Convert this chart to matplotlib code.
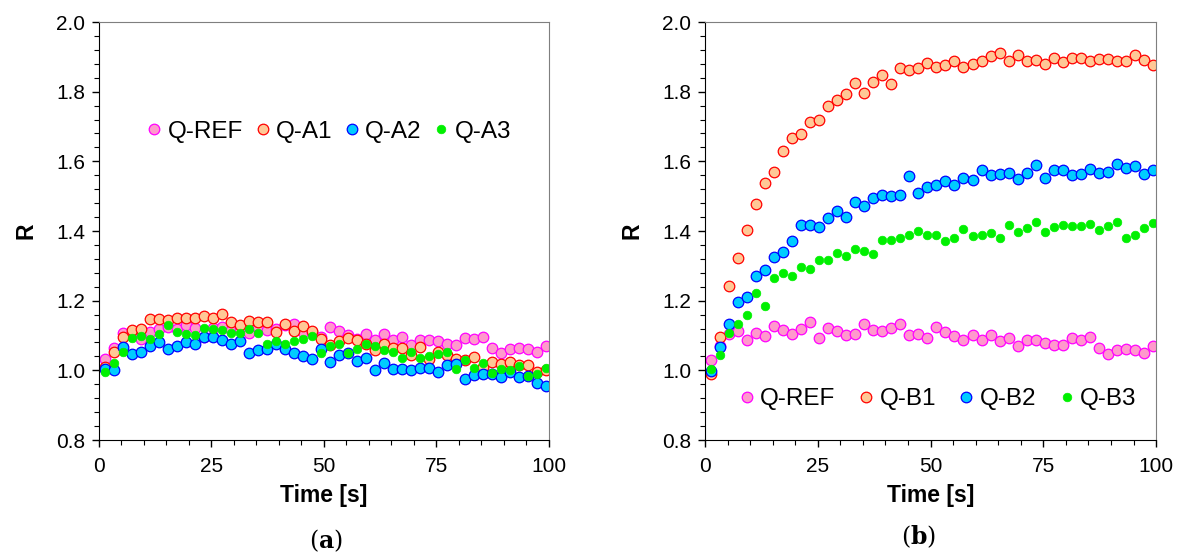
import matplotlib
matplotlib.use("Agg")
import matplotlib.pyplot as plt
from matplotlib.ticker import MultipleLocator

plt.rcParams['font.family'] = ['Liberation Sans', 'DejaVu Sans']

times = [1.3, 3.3, 5.3, 7.3, 9.3, 11.3, 13.3, 15.3, 17.3, 19.3,
         21.3, 23.3, 25.3, 27.3, 29.3, 31.3, 33.3, 35.3, 37.3, 39.3,
         41.3, 43.3, 45.3, 47.3, 49.3, 51.3, 53.3, 55.3, 57.3, 59.3,
         61.3, 63.3, 65.3, 67.3, 69.3, 71.3, 73.3, 75.3, 77.3, 79.3,
         81.3, 83.3, 85.3, 87.3, 89.3, 91.3, 93.3, 95.3, 97.3, 99.3]

# panel (a)
ref_a = [1.033, 1.065, 1.107, 1.110, 1.090, 1.110, 1.120, 1.125, 1.120, 1.130,
         1.121, 1.096, 1.122, 1.124, 1.115, 1.120, 1.107, 1.125, 1.117, 1.119,
         1.129, 1.134, 1.110, 1.110, 1.096, 1.124, 1.112, 1.102, 1.091, 1.105,
         1.088, 1.105, 1.086, 1.096, 1.074, 1.088, 1.088, 1.083, 1.076, 1.074,
         1.094, 1.091, 1.096, 1.065, 1.051, 1.060, 1.065, 1.062, 1.054, 1.069]
qa1 = [1.010, 1.053, 1.096, 1.117, 1.119, 1.146, 1.146, 1.145, 1.149, 1.149,
       1.149, 1.155, 1.150, 1.162, 1.138, 1.129, 1.143, 1.138, 1.138, 1.110,
       1.134, 1.112, 1.126, 1.113, 1.091, 1.072, 1.084, 1.094, 1.088, 1.076,
       1.057, 1.075, 1.065, 1.065, 1.043, 1.067, 1.033, 1.053, 1.043, 1.033,
       1.031, 1.038, 1.010, 1.024, 1.017, 1.024, 1.014, 1.014, 0.995, 1.000]
qa2 = [1.003, 1.000, 1.067, 1.046, 1.054, 1.070, 1.081, 1.062, 1.070, 1.081,
       1.075, 1.096, 1.097, 1.088, 1.076, 1.084, 1.050, 1.057, 1.062, 1.076,
       1.062, 1.050, 1.040, 1.032, 1.060, 1.024, 1.043, 1.050, 1.027, 1.036,
       1.002, 1.022, 1.003, 1.003, 1.000, 1.008, 1.008, 0.995, 1.014, 1.019,
       0.976, 0.986, 0.989, 0.990, 0.981, 0.995, 0.981, 0.985, 0.965, 0.954]
qa3 = [0.995, 1.022, 1.054, 1.093, 1.098, 1.091, 1.105, 1.129, 1.110, 1.105,
       1.102, 1.121, 1.119, 1.117, 1.107, 1.108, 1.119, 1.107, 1.076, 1.084,
       1.076, 1.084, 1.091, 1.098, 1.050, 1.069, 1.076, 1.050, 1.060, 1.075,
       1.071, 1.057, 1.054, 1.035, 1.053, 1.036, 1.041, 1.048, 1.054, 1.003,
       1.029, 1.007, 1.022, 0.992, 1.003, 1.000, 1.012, 0.983, 0.989, 1.008]

# panel (b)
ref_b = [1.031, 1.070, 1.105, 1.113, 1.088, 1.107, 1.100, 1.127, 1.115, 1.105,
         1.119, 1.140, 1.094, 1.121, 1.113, 1.102, 1.105, 1.134, 1.115, 1.113,
         1.121, 1.132, 1.102, 1.105, 1.094, 1.124, 1.110, 1.098, 1.086, 1.102,
         1.086, 1.102, 1.083, 1.093, 1.070, 1.086, 1.086, 1.079, 1.074, 1.074,
         1.093, 1.086, 1.096, 1.064, 1.046, 1.059, 1.062, 1.059, 1.051, 1.069]
qb1 = [0.990, 1.095, 1.241, 1.323, 1.404, 1.477, 1.537, 1.569, 1.630, 1.667,
       1.678, 1.714, 1.719, 1.759, 1.776, 1.792, 1.824, 1.795, 1.827, 1.849,
       1.822, 1.867, 1.862, 1.868, 1.883, 1.871, 1.876, 1.887, 1.871, 1.879,
       1.887, 1.902, 1.912, 1.889, 1.905, 1.887, 1.892, 1.879, 1.897, 1.884,
       1.898, 1.898, 1.889, 1.895, 1.895, 1.889, 1.887, 1.905, 1.892, 1.876]
qb2 = [0.998, 1.067, 1.132, 1.197, 1.210, 1.270, 1.288, 1.325, 1.341, 1.371,
       1.416, 1.418, 1.411, 1.437, 1.458, 1.441, 1.482, 1.471, 1.495, 1.504,
       1.501, 1.504, 1.559, 1.509, 1.525, 1.532, 1.544, 1.533, 1.552, 1.546,
       1.575, 1.562, 1.565, 1.566, 1.549, 1.566, 1.590, 1.552, 1.576, 1.575,
       1.562, 1.565, 1.578, 1.566, 1.568, 1.592, 1.581, 1.587, 1.563, 1.576]
qb3 = [1.005, 1.045, 1.108, 1.132, 1.160, 1.222, 1.186, 1.265, 1.279, 1.270,
       1.298, 1.290, 1.317, 1.317, 1.336, 1.329, 1.349, 1.344, 1.334, 1.375,
       1.375, 1.379, 1.389, 1.401, 1.389, 1.389, 1.372, 1.379, 1.406, 1.387,
       1.389, 1.393, 1.380, 1.417, 1.398, 1.408, 1.427, 1.398, 1.411, 1.418,
       1.415, 1.414, 1.420, 1.403, 1.414, 1.425, 1.379, 1.389, 1.408, 1.423]

styles = [
    dict(marker='o', ms=7.6, mfc='#FF99CC', mec='#FF00FF', mew=0.9),
    dict(marker='o', ms=7.6, mfc='#FFC896', mec='#FF0000', mew=0.9),
    dict(marker='o', ms=7.6, mfc='#00CCFF', mec='#0000FF', mew=0.9),
    dict(marker='o', ms=6.2, mfc='#00F000', mec='#00F000', mew=0.5),
]

fig = plt.figure(figsize=(11.78, 5.56), dpi=100)
ax1 = fig.add_axes([0.0840, 0.2086, 0.3820, 0.7518])
ax2 = fig.add_axes([0.5985, 0.2086, 0.3829, 0.7518])


def draw(ax, series, names, legend_pos, colspace):
    for vals, name, st in zip(series, names, styles):
        ax.plot(times, vals, ls='none', label=name, **st)
    ax.set_xlim(0, 100)
    ax.set_ylim(0.8, 2.0)
    ax.xaxis.set_major_locator(MultipleLocator(25))
    ax.xaxis.set_minor_locator(MultipleLocator(5))
    ax.yaxis.set_major_locator(MultipleLocator(0.2))
    ax.yaxis.set_minor_locator(MultipleLocator(0.04))
    ax.yaxis.set_major_formatter(lambda v, p: f"{v:.1f}")
    ax.tick_params(which='major', direction='out', length=5, width=1,
                   labelsize=15, top=False, right=False)
    ax.tick_params(axis='x', which='major', pad=7)
    ax.tick_params(axis='y', which='major', pad=5)
    ax.tick_params(which='minor', direction='out', length=3.5, width=0.8,
                   top=False, right=False)
    for s in ('top', 'right'):
        ax.spines[s].set_color('#7f7f7f')
    ax.set_xlabel('Time [s]', fontsize=16.5, fontweight='bold', labelpad=6)
    ax.set_ylabel('R', fontsize=16.5, fontweight='bold', labelpad=13)
    ax.legend(loc='center', bbox_to_anchor=legend_pos, ncol=4, frameon=False,
              fontsize=17.5, handlelength=0.5, handletextpad=0.3,
              columnspacing=colspace, borderpad=0, borderaxespad=0)


draw(ax1, [ref_a, qa1, qa2, qa3], ['Q-REF', 'Q-A1', 'Q-A2', 'Q-A3'],
     (0.513, 0.738), 0.55)
draw(ax2, [ref_b, qb1, qb2, qb3], ['Q-REF', 'Q-B1', 'Q-B2', 'Q-B3'],
     (0.518, 0.097), 1.0)

plt.rcParams['mathtext.fontset'] = 'dejavuserif'
fig.text(326 / 1178, 1 - 541 / 556, r'($\mathbf{a}$)', ha='center', va='center',
         fontsize=17, family='DejaVu Serif')
fig.text(919 / 1178, 1 - 537 / 556, r'($\mathbf{b}$)', ha='center', va='center',
         fontsize=17, family='DejaVu Serif')

fig.savefig('out.png', dpi=100)
